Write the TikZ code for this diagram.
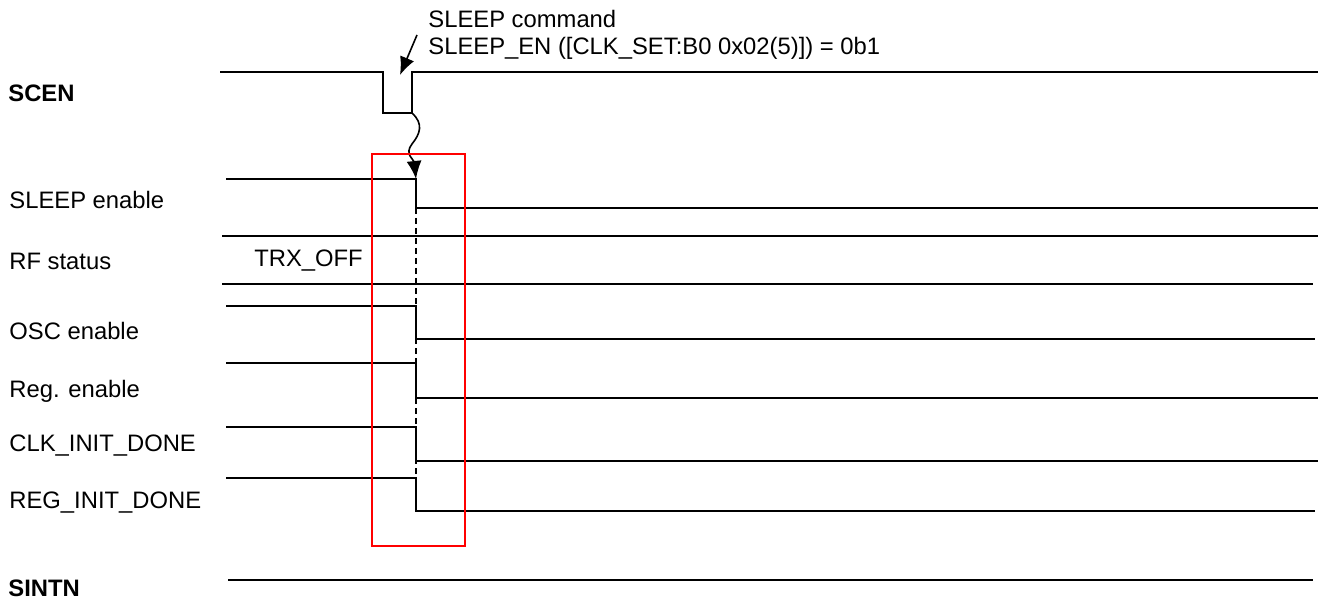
\documentclass[tikz,border=0pt]{standalone}
\usepackage{fontspec}
\setmainfont{Liberation Sans}
\usetikzlibrary{arrows.meta,decorations.pathmorphing}
\newcommand{\sigfont}{\fontsize{11.9}{13.5}\selectfont}

\begin{document}
\begin{tikzpicture}[x=0.5pt, y=-0.5pt,
  every node/.style={font=\sigfont, inner sep=0pt, anchor=base west},
  wave/.style={line width=0.8pt},
  tip/.style={-{Latex[length=9pt,width=7.5pt]}}]
  \useasboundingbox (0,0) rectangle (1319,599);

  % Etichette dei segnali
  \node (scen)   at (8,101.5)  {\bfseries SCEN};
  \node (sleep)  at (9,208.5)  {SLEEP enable};
  \node (rf)     at (9,270)    {RF status};
  \node (osc)    at (9,339)    {OSC enable};
  \node (reg)    at (9,397)    {Reg. enable};
  \node (clk)    at (9,451.5)  {CLK\_INIT\_DONE};
  \node (rinit)  at (9,508.5)  {REG\_INIT\_DONE};
  \node (sintn)  at (8,596.5)  {\bfseries SINTN};

  % Comando
  \node (cmdA) at (428,28) {SLEEP command};
  \node (cmdB) at (428,55) {SLEEP\_EN ([CLK\_SET:B0 0x02(5)]) = 0b1};

  % SCEN con impulso
  \coordinate (plsA) at (383,113);
  \coordinate (plsB) at (412,113);
  \draw[wave] (220,72) -- (383,72) -- (plsA) -- (plsB) -- (412,72) -- (1318,72);

  % Frecce
  \coordinate (tail) at (417,35);
  \coordinate (head) at (400,75);
  \coordinate (fall) at (416,179);
  \draw[wave, tip] (tail) -- (head);
  \draw[wave, tip] (plsB) .. controls (424,124) and (420,134) .. (412,144)
    .. controls (404,154) and (414,160) .. (fall);

  % Forme d'onda
  \foreach \hi/\lo/\xe in {179/208/1318, 306/339/1315, 363/398/1318, 427/461/1318, 478/511/1315}
    \draw[wave] (226,\hi) -- (416,\hi) -- (416,\lo) -- (\xe,\lo);

  % RF status
  \draw[wave] (222,236) -- (1318,236);
  \draw[wave] (222,284) -- (1313,284);
  \node[anchor=base] (trx) at (308.5,266.5) {TRX\_OFF};

  % SINTN
  \draw[wave] (228,580) -- (1313,580);

  % Linea tratteggiata e riquadro
  \draw[wave, dash pattern=on 3pt off 2pt] (416,208) -- (416,478);
  \draw[red, line width=1pt] (372,154) rectangle (465,546);
\end{tikzpicture}
\end{document}
